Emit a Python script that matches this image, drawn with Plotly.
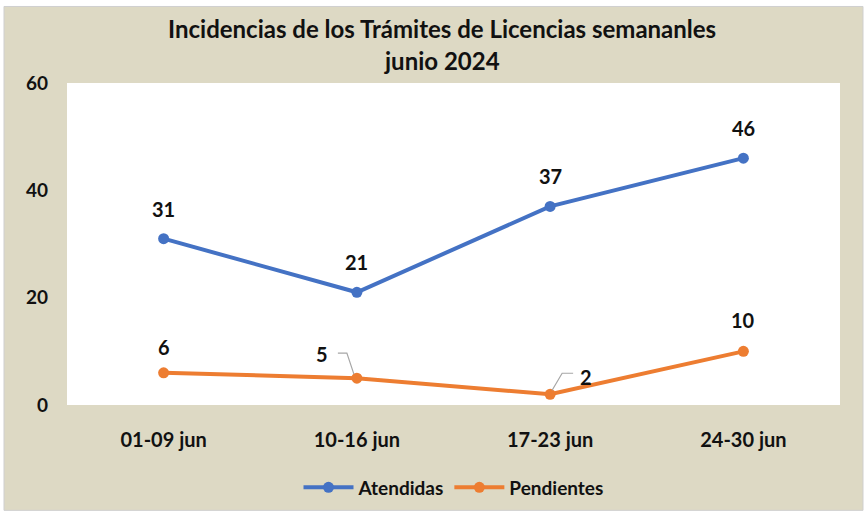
import plotly.graph_objects as go

# Weekly license-procedure incidents, June 2024
semanas = ["01-09 jun", "10-16 jun", "17-23 jun", "24-30 jun"]
atendidas = [31, 21, 37, 46]
pendientes = [6, 5, 2, 10]

AZUL = "#4472C4"
NARANJA = "#ED7D31"
FONDO = "#DDD9C4"
FUENTE = "Lato, Carlito, Calibri, sans-serif"

W, H = 867, 519
ML, MR, MT, MB = 67, 27, 83, 112
PW, PH = W - ML - MR, H - MT - MB


def px_x(px):
    return (px - ML) / PW


def px_y(py):
    return 1 - (py - MT) / PH


fig = go.Figure()
fig.add_trace(go.Scatter(
    x=semanas, y=atendidas, name="Atendidas", mode="lines+markers",
    line=dict(color=AZUL, width=4), marker=dict(size=11, color=AZUL),
))
fig.add_trace(go.Scatter(
    x=semanas, y=pendientes, name="Pendientes", mode="lines+markers",
    line=dict(color=NARANJA, width=4), marker=dict(size=11, color=NARANJA),
))

lbl_font = dict(family=FUENTE, size=20, color="#111111")

# value labels above each point
for i, v in enumerate(atendidas):
    fig.add_annotation(x=semanas[i], y=v, text=f"<b>{v}</b>", showarrow=False,
                       yshift=30, font=lbl_font)

# orange labels: two of them sit off to the side with an elbow leader line
offsets = {0: (0, 26, None), 1: (-35, 24, "M -3,4 L -10,25 L -19,25"),
           2: (36, 17, "M 2,4 L 12,21 L 23,21"), 3: (0, 31, None)}
for i, v in enumerate(pendientes):
    dx, dy, path = offsets[i]
    fig.add_annotation(x=semanas[i], y=v, text=f"<b>{v}</b>", showarrow=False,
                       xshift=dx, yshift=dy, font=lbl_font)
    if path:
        fig.add_shape(type="path", xref="x", yref="y", xsizemode="pixel",
                      ysizemode="pixel", xanchor=i, yanchor=v, path=path,
                      line=dict(color="#A6A6A6", width=1.2))

# chart frame, then the white plotting area on top of it
fig.add_shape(type="rect", xref="paper", yref="paper", layer="below",
              x0=px_x(4), x1=px_x(863), y0=px_y(513), y1=px_y(6),
              fillcolor=FONDO, line=dict(color="#CFCFCF", width=1))
fig.add_shape(type="rect", xref="paper", yref="paper", layer="below",
              x0=0, x1=1, y0=0, y1=1, fillcolor="#FFFFFF",
              line=dict(width=0))

title_font = dict(family=FUENTE, size=24, color="#111111")
fig.add_annotation(xref="paper", yref="paper", x=px_x(442), y=px_y(28),
                   text="<b>Incidencias de los Trámites de Licencias semananles</b>",
                   showarrow=False, font=title_font, yanchor="middle")
fig.add_annotation(xref="paper", yref="paper", x=px_x(442), y=px_y(60),
                   text="<b>junio 2024</b>", showarrow=False, font=title_font,
                   yanchor="middle")

fig.update_layout(
    width=W, height=H,
    margin=dict(l=ML, r=MR, t=MT, b=MB),
    paper_bgcolor="#FFFFFF", plot_bgcolor="#FFFFFF",
    font=dict(family=FUENTE, color="#111111"),
    showlegend=True,
    legend=dict(orientation="h", x=0.5, xanchor="center", y=px_y(490),
                yanchor="middle", bgcolor="rgba(0,0,0,0)",
                font=dict(family=FUENTE, size=19, color="#111111", weight="bold"),
                itemwidth=50, traceorder="normal"),
    xaxis=dict(range=[-0.5, 3.5], showgrid=False, zeroline=False,
               showline=False, ticks="", ticklabelstandoff=21,
               tickfont=dict(family=FUENTE, size=20, color="#111111", weight="bold")),
    yaxis=dict(range=[0, 60], tickvals=[0, 20, 40, 60], showgrid=False,
               zeroline=False, showline=False, ticks="", ticklabelstandoff=18,
               tickfont=dict(family=FUENTE, size=19, color="#111111", weight="bold")),
)

fig.write_html("out.html")
